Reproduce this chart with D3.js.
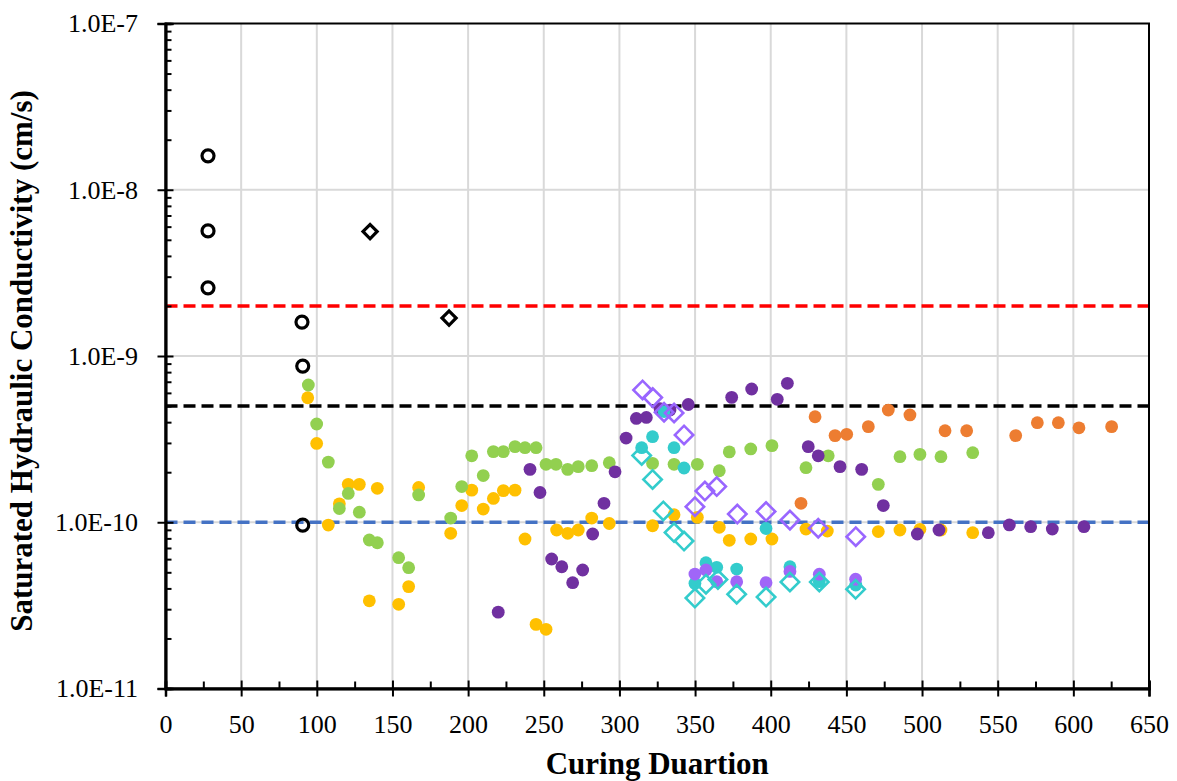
<!DOCTYPE html>
<html>
<head>
<meta charset="utf-8">
<script src="https://cdn.jsdelivr.net/npm/d3@7"></script>
<style>
  html, body { margin: 0; padding: 0; background: #fff; }
  svg { display: block; }
</style>
</head>
<body>
<svg id="chart" width="1177" height="781"></svg>
<script>
// ---------- data (curing days, hydraulic conductivity cm/s) ----------
const xTickValues = [0,50,100,150,200,250,300,350,400,450,500,550,600,650];
const yTickValues = [1e-11,1e-10,1e-9,1e-8,1e-7];
const yTickLabels = ["1.0E-11","1.0E-10","1.0E-9","1.0E-8","1.0E-7"];
const xTitle = "Curing Duartion";
const yTitle = "Saturated Hydraulic Conductivity (cm/s)";
const refLines = [2e-9, 5e-10, 1e-10];

const blackCircleX = [28.1, 28.1, 28.1, 90.2, 90.7, 90.7];
const blackCircleY = [1.6e-8, 5.65e-9, 2.57e-9, 1.6e-9, 8.7e-10, 9.6e-11];

const blackDiamondX = [135.2, 187.4];
const blackDiamondY = [5.6e-9, 1.69e-9];

const yellowX = [94.0,99.9,107.6,114.9,120.8,128.1,140.0,134.7,154.1,160.7,167.3,188.5,195.8,202.4,210.0,216.7,223.3,231.0,237.6,244.9,251.5,258.5,265.8,272.8,281.7,293.3,321.9,336.1,351.5,366.0,372.6,386.8,400.8,423.3,437.4,471.1,485.4,498.6,512.5,533.5];
const yellowY = [5.61e-10,2.98e-10,9.62e-11,1.29e-10,1.69e-10,1.69e-10,1.60e-10,3.37e-11,3.21e-11,4.10e-11,1.62e-10,8.58e-11,1.26e-10,1.56e-10,1.20e-10,1.39e-10,1.55e-10,1.56e-10,7.93e-11,2.43e-11,2.27e-11,8.98e-11,8.58e-11,8.98e-11,1.06e-10,9.83e-11,9.53e-11,1.11e-10,1.07e-10,9.32e-11,7.79e-11,7.93e-11,7.93e-11,9.1e-11,8.85e-11,8.79e-11,8.98e-11,9.07e-11,8.98e-11,8.65e-11];

const greenX = [94.4,99.9,107.6,120.8,114.9,128.1,134.7,140.0,154.1,160.7,167.3,188.5,195.8,202.4,210.0,216.7,223.3,231.0,237.6,244.9,251.5,258.1,265.8,272.8,281.7,293.3,321.9,336.1,351.5,366.0,372.6,386.8,400.8,423.3,438.0,471.1,485.4,498.6,512.5,533.5];
const greenY = [6.69e-10,3.90e-10,2.30e-10,1.49e-10,1.21e-10,1.15e-10,7.82e-11,7.53e-11,6.12e-11,5.33e-11,1.46e-10,1.06e-10,1.64e-10,2.51e-10,1.91e-10,2.66e-10,2.66e-10,2.85e-10,2.81e-10,2.81e-10,2.23e-10,2.23e-10,2.08e-10,2.16e-10,2.19e-10,2.28e-10,2.26e-10,2.23e-10,2.23e-10,2.04e-10,2.65e-10,2.76e-10,2.89e-10,2.13e-10,2.51e-10,1.69e-10,2.48e-10,2.56e-10,2.48e-10,2.62e-10];

const purpleX = [219.9,240.9,247.5,255.2,261.9,269.1,275.7,282.3,289.8,297.1,304.4,311.2,317.8,326.8,333.4,345.5,374.2,387.4,404.3,411.0,424.8,431.4,445.8,460.1,474.4,496.9,511.2,543.8,557.7,571.8,586.1,607.0];
const purpleY = [2.88e-11,2.08e-10,1.51e-10,6.01e-11,5.40e-11,4.33e-11,5.16e-11,8.50e-11,1.30e-10,2.01e-10,3.21e-10,4.21e-10,4.27e-10,4.83e-10,4.73e-10,5.11e-10,5.64e-10,6.33e-10,5.49e-10,6.85e-10,2.85e-10,2.51e-10,2.16e-10,2.08e-10,1.26e-10,8.5e-11,8.98e-11,8.65e-11,9.63e-11,9.4e-11,9.1e-11,9.4e-11];

const orangeX = [420.0,429.3,442.5,450.2,464.5,477.7,492.0,515.2,529.5,561.9,576.2,590.1,603.7,625.3];
const orangeY = [1.30e-10,4.31e-10,3.32e-10,3.38e-10,3.76e-10,4.73e-10,4.42e-10,3.55e-10,3.55e-10,3.32e-10,3.97e-10,3.97e-10,3.70e-10,3.76e-10];

const cyanX = [314.7,321.9,329.5,336.1,342.7,357.2,364.3,349.9,377.5,396.9,412.7,432.1,456.2];
const cyanY = [2.81e-10,3.27e-10,4.63e-10,2.81e-10,2.12e-10,5.71e-11,5.36e-11,4.29e-11,5.23e-11,9.17e-11,5.40e-11,4.39e-11,4.19e-11];

const lilacX = [349.9,357.2,364.3,377.5,396.9,412.7,432.1,456.1];
const lilacY = [4.88e-11,5.16e-11,4.39e-11,4.39e-11,4.33e-11,5.06e-11,4.87e-11,4.54e-11];

const cyanDiamondX = [314.7,321.9,329.0,336.1,342.7,349.9,357.2,365.1,377.5,396.9,412.7,432.1,456.1];
const cyanDiamondY = [2.52e-10,1.81e-10,1.17e-10,8.67e-11,7.71e-11,3.50e-11,4.24e-11,4.52e-11,3.69e-11,3.55e-11,4.37e-11,4.37e-11,3.95e-11];

const violetDiamondX = [315.3,322.0,329.5,336.1,342.7,349.9,356.5,364.3,377.9,396.9,412.7,431.4,456.2];
const violetDiamondY = [6.25e-10,5.62e-10,4.59e-10,4.54e-10,3.35e-10,1.24e-10,1.54e-10,1.64e-10,1.12e-10,1.16e-10,1.03e-10,9.2e-11,8.19e-11];

// ---------- layout ----------
const L = 165.5, R = 1149, T = 23.5, B = 688.5;
const svg = d3.select("#chart");
const x = d3.scaleLinear().domain([0, 650]).range([L, R]);
const y = d3.scaleLog().domain([1e-11, 1e-7]).range([B, T]);
const FONT = "'Liberation Serif', 'Times New Roman', serif";

// gridlines
const grid = svg.append("g");
grid.selectAll("line.v").data(xTickValues.slice(1, -1)).join("line")
  .attr("x1", d => x(d)).attr("x2", d => x(d)).attr("y1", T).attr("y2", B)
  .attr("stroke", "#d9d9d9").attr("stroke-width", 2);
grid.selectAll("line.h").data(yTickValues.slice(1, -1)).join("line")
  .attr("y1", d => y(d)).attr("y2", d => y(d)).attr("x1", L).attr("x2", R)
  .attr("stroke", "#d9d9d9").attr("stroke-width", 2);

// reference dashed lines
const refColors = ["#ff0000", "#000000", "#4472c4"];
svg.append("g").selectAll("line").data(refLines).join("line")
  .attr("x1", L).attr("x2", R).attr("y1", d => y(d)).attr("y2", d => y(d))
  .attr("stroke", (d, i) => refColors[i]).attr("stroke-width", 3.5)
  .attr("stroke-dasharray", "12,6");

// border box (top/right)
svg.append("rect").attr("x", L).attr("y", T).attr("width", R - L).attr("height", B - T)
  .attr("fill", "none").attr("stroke", "#000").attr("stroke-width", 2);

// ---------- axes ----------
svg.append("g").attr("transform", `translate(${L},0)`)
  .call(d3.axisLeft(y).tickValues(yTickValues).tickFormat((d, i) => yTickLabels[i])
    .tickSize(8).tickPadding(19.5));
svg.append("g").attr("transform", `translate(${L},0)`)
  .call(d3.axisRight(y).tickValues(yTickValues).tickFormat("").tickSize(8));
const yMinor = [];
for (let e = -11; e < -7; e++) for (let m = 2; m <= 9; m++) yMinor.push(m * Math.pow(10, e));
svg.append("g").attr("transform", `translate(${L},0)`)
  .call(d3.axisRight(y).tickValues(yMinor).tickFormat("").tickSize(6));

svg.append("g").attr("transform", `translate(0,${B})`)
  .call(d3.axisBottom(x).tickValues(xTickValues).tickFormat(d3.format("d"))
    .tickSize(8).tickPadding(18.5));
svg.append("g").attr("transform", `translate(0,${B})`)
  .call(d3.axisTop(x).tickValues(xTickValues).tickFormat("").tickSize(8));
svg.append("g").attr("transform", `translate(0,${B})`)
  .call(d3.axisTop(x).tickValues(d3.range(25, 650, 50)).tickFormat("").tickSize(7));

svg.selectAll(".domain").attr("stroke", "#000").attr("stroke-width", 2.5);
svg.selectAll(".tick line").attr("stroke", "#000").attr("stroke-width", 2);
svg.selectAll(".tick text").attr("font-family", FONT).attr("font-size", 26).attr("fill", "#000");

// titles
svg.append("text").attr("x", (L + R) / 2).attr("y", 774)
  .attr("text-anchor", "middle").attr("font-family", FONT).attr("font-weight", "bold")
  .attr("font-size", 31).text(xTitle);
svg.append("text").attr("transform", `translate(32,${(T + B) / 2 + 5}) rotate(-90)`)
  .attr("text-anchor", "middle").attr("font-family", FONT).attr("font-weight", "bold")
  .attr("font-size", 31).text(yTitle);

// ---------- marks ----------
const pts = (xs, ys) => xs.map((v, i) => ({ x: v, y: ys[i] }));
function dots(data, color) {
  svg.append("g").selectAll("circle").data(data).join("circle")
    .attr("cx", d => x(d.x)).attr("cy", d => y(d.y)).attr("r", 6.4).attr("fill", color);
}
function diamonds(data, color, side, sw) {
  const sym = d3.symbol().type(d3.symbolSquare).size(side * side);
  svg.append("g").selectAll("path").data(data).join("path")
    .attr("d", sym)
    .attr("transform", d => `translate(${x(d.x)},${y(d.y)}) rotate(45)`)
    .attr("fill", "none").attr("stroke", color).attr("stroke-width", sw);
}

dots(pts(yellowX, yellowY), "#ffc000");
dots(pts(greenX, greenY), "#92d050");
dots(pts(purpleX, purpleY), "#7030a0");
dots(pts(orangeX, orangeY), "#ed7d31");
dots(pts(cyanX, cyanY), "#33cccc");
dots(pts(lilacX, lilacY), "#a066f8");
diamonds(pts(cyanDiamondX, cyanDiamondY), "#33cccc", 13, 2.6);
diamonds(pts(violetDiamondX, violetDiamondY), "#9966ff", 13, 2.6);

svg.append("g").selectAll("circle").data(pts(blackCircleX, blackCircleY)).join("circle")
  .attr("cx", d => x(d.x)).attr("cy", d => y(d.y)).attr("r", 6)
  .attr("fill", "none").attr("stroke", "#000").attr("stroke-width", 3.2);
diamonds(pts(blackDiamondX, blackDiamondY), "#000", 10, 3.2);
</script>
</body>
</html>
